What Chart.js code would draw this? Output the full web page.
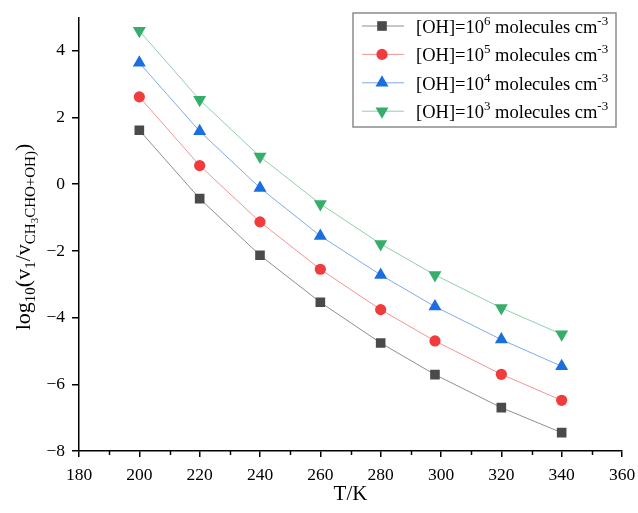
<!DOCTYPE html>
<html>
<head>
<meta charset="utf-8">
<script src="https://cdn.jsdelivr.net/npm/chart.js@4/dist/chart.umd.min.js"></script>
<style>
  html, body { margin: 0; padding: 0; background: #fff; }
  #wrap { width: 638px; height: 513px; }
</style>
</head>
<body>
<div id="wrap"><canvas id="chart" width="638" height="513"></canvas></div>
<script>
// temperatures (K)
var temps = [200, 220, 240, 260, 280, 298, 320, 340];
// log10(v1/v) for each [OH] level
var oh6 = [1.62, -0.43, -2.13, -3.54, -4.76, -5.71, -6.70, -7.45];
var oh5 = [2.62, 0.56, -1.13, -2.55, -3.76, -4.70, -5.70, -6.48];
var oh4 = [3.64, 1.59, -0.11, -1.55, -2.72, -3.67, -4.66, -5.46];
var oh3 = [4.60, 2.53, 0.83, -0.59, -1.79, -2.72, -3.71, -4.50];
var ohExp = ['6', '5', '4', '3'];
var xTicks = [180, 200, 220, 240, 260, 280, 300, 320, 340, 360];
var xMinor = [190, 210, 230, 250, 270, 290, 310, 330, 350];
var yTicks = [-8, -6, -4, -2, 0, 2, 4];

var SERIF = '"Liberation Serif", "Times New Roman", serif';

function pts(vals) {
    return vals.map(function(v, i) { return {x: temps[i], y: v}; });
}

function series(label, vals, line, fill, style, radius, rot) {
    return {
        label: label,
        data: pts(vals),
        borderColor: line,
        borderWidth: 1,
        backgroundColor: fill,
        pointBackgroundColor: fill,
        pointBorderColor: fill,
        pointBorderWidth: 0,
        pointStyle: style,
        pointRadius: radius,
        pointRotation: rot,
        tension: 0
    };
}

// axis titles, minor ticks and the framed legend
var extras = {
    id: 'extras',
    afterDraw: function(chart) {
        var ctx = chart.ctx;
        var xs = chart.scales.x, area = chart.chartArea;
        ctx.save();

        // minor x ticks
        ctx.strokeStyle = '#000';
        ctx.lineWidth = 1.5;
        xMinor.forEach(function(v) {
            var px = Math.round(xs.getPixelForValue(v)) + 0.5;
            ctx.beginPath();
            ctx.moveTo(px, area.bottom);
            ctx.lineTo(px, area.bottom + 4);
            ctx.stroke();
        });

        // x title
        ctx.fillStyle = '#000';
        ctx.font = '21px ' + SERIF;
        ctx.textAlign = 'center';
        ctx.textBaseline = 'alphabetic';
        ctx.fillText('T/K', (area.left + area.right) / 2, 500);

        // y title with subscripts
        var parts = [
            {t: 'log', s: 22, dy: 0},
            {t: '10', s: 15, dy: 5},
            {t: '(v', s: 22, dy: 0},
            {t: '1', s: 15, dy: 5},
            {t: '/v', s: 22, dy: 0},
            {t: 'CH', s: 15, dy: 5},
            {t: '3', s: 11, dy: 8},
            {t: 'CHO+OH)', s: 15, dy: 5},
            {t: ')', s: 22, dy: 0}
        ];
        var total = 0;
        parts.forEach(function(p) {
            ctx.font = p.s + 'px ' + SERIF;
            p.w = ctx.measureText(p.t).width;
            total += p.w;
        });
        ctx.translate(30, 237);
        ctx.rotate(-Math.PI / 2);
        ctx.textAlign = 'left';
        var cx = -total / 2;
        parts.forEach(function(p) {
            ctx.font = p.s + 'px ' + SERIF;
            ctx.fillText(p.t, cx, p.dy);
            cx += p.w;
        });
        ctx.setTransform(1, 0, 0, 1, 0, 0);

        // legend
        var lx = 353, ly = 13, lw = 263, lh = 114;
        ctx.strokeStyle = '#8c8c8c';
        ctx.lineWidth = 1.5;
        ctx.strokeRect(lx, ly, lw, lh);
        chart.data.datasets.forEach(function(ds, i) {
            var ry = 26 + i * 28.4;
            ctx.strokeStyle = ds.borderColor;
            ctx.lineWidth = 1;
            ctx.beginPath();
            ctx.moveTo(362, ry);
            ctx.lineTo(404, ry);
            ctx.stroke();
            ctx.fillStyle = ds.pointBackgroundColor;
            Chart.helpers.drawPoint(ctx, {
                pointStyle: ds.pointStyle,
                rotation: ds.pointRotation,
                radius: ds.pointRadius,
                borderWidth: 0
            }, 382, ry);
            ctx.fillStyle = '#000';
            ctx.textAlign = 'left';
            var tx = 416, by = ry + 7;
            ctx.font = '18.5px ' + SERIF;
            ctx.fillText('[OH]=10', tx, by);
            tx += ctx.measureText('[OH]=10').width;
            ctx.font = '13px ' + SERIF;
            ctx.fillText(ohExp[i], tx, by - 8);
            tx += ctx.measureText(ohExp[i]).width;
            ctx.font = '18.5px ' + SERIF;
            ctx.fillText(' molecules cm', tx, by);
            tx += ctx.measureText(' molecules cm').width;
            ctx.font = '13px ' + SERIF;
            ctx.fillText('-3', tx, by - 8);
        });
        ctx.restore();
    }
};

new Chart(document.getElementById('chart'), {
    type: 'line',
    data: {
        datasets: [
            series('[OH]=10^6 molecules cm^-3', oh6, '#8e8e8e', '#4a4a4a', 'rect', 6.8, 0),
            series('[OH]=10^5 molecules cm^-3', oh5, '#f59393', '#f03c3c', 'circle', 5.6, 0),
            series('[OH]=10^4 molecules cm^-3', oh4, '#7eaaf0', '#1a6fdf', 'triangle', 7.5, 0),
            series('[OH]=10^3 molecules cm^-3', oh3, '#8dd1a8', '#37ad6b', 'triangle', 7.5, 180)
        ]
    },
    options: {
        responsive: false,
        animation: false,
        layout: {padding: {left: 0, right: 16, top: 12, bottom: 0}},
        plugins: {
            legend: {display: false},
            tooltip: {enabled: false}
        },
        scales: {
            x: {
                type: 'linear',
                min: 180,
                max: 360,
                afterFit: function(scale) {
                    scale.height = 62;
                    scale.paddingLeft = 0;
                    scale.paddingRight = 0;
                },
                afterBuildTicks: function(scale) {
                    scale.ticks = xTicks.map(function(v) { return {value: v}; });
                },
                border: {display: true, color: '#000', width: 1.5},
                grid: {display: true, drawOnChartArea: false, drawTicks: true, tickLength: 6, color: '#000', lineWidth: 1.5},
                ticks: {
                    color: '#000',
                    padding: 8,
                    maxRotation: 0,
                    font: {family: SERIF, size: 17.5}
                }
            },
            y: {
                type: 'linear',
                min: -8,
                max: 5,
                afterFit: function(scale) { scale.width = 79; },
                afterBuildTicks: function(scale) {
                    scale.ticks = yTicks.map(function(v) { return {value: v}; });
                },
                border: {display: true, color: '#000', width: 1.5},
                grid: {display: true, drawOnChartArea: false, drawTicks: true, tickLength: 7, color: '#000', lineWidth: 1.5},
                ticks: {
                    color: '#000',
                    padding: 7,
                    font: {family: SERIF, size: 17.5},
                    callback: function(v) { return v < 0 ? '\u2212' + Math.abs(v) : String(v); }
                }
            }
        }
    },
    plugins: [extras]
});
</script>
</body>
</html>
